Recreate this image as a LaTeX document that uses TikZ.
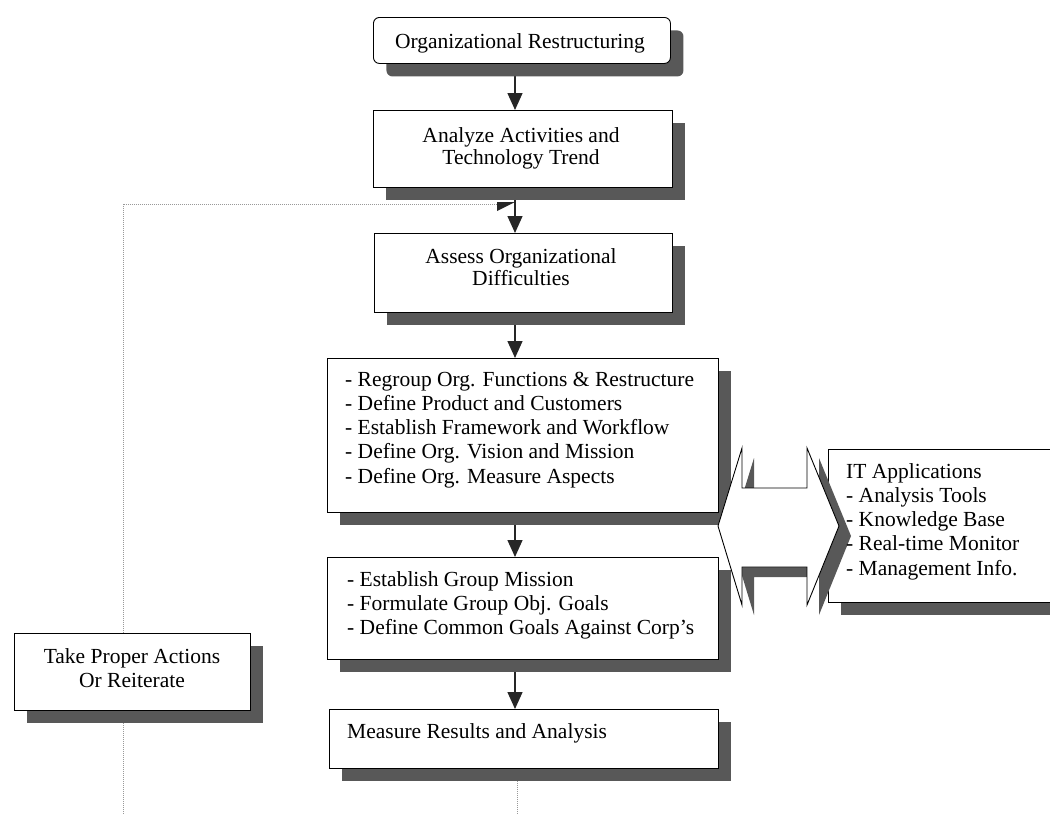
\documentclass[tikz,border=0pt]{standalone}
\usepackage{fontspec}
\setmainfont{Liberation Serif}
\usetikzlibrary{arrows.meta,shadows,backgrounds}
\definecolor{shadowgray}{HTML}{585858}
\tikzset{
  stepbox/.style={draw=black, line width=0.9pt, fill=white, inner sep=0pt,
    anchor=north west,
    drop shadow={shadow xshift=13pt, shadow yshift=-13pt, opacity=1, fill=shadowgray}},
  flow/.style={draw=black!85, line width=1.4pt, -{Triangle[width=15pt,length=17pt]}},
  loopline/.style={draw=gray!80, line width=0.8pt, dash pattern=on 0.8pt off 1.2pt},
  txt/.style={inner sep=0pt, font=\fontsize{21.5}{24.3}\selectfont},
  txttight/.style={inner sep=0pt, font=\fontsize{21.5}{22}\selectfont},
}
\newcommand\linkshape{(718,526) -- (742,448) -- (742,488) -- (807,488) -- (807,448)
  -- (839,526) -- (807,605) -- (807,567) -- (742,567) -- (742,605) -- cycle}
\begin{document}
\begin{tikzpicture}[x=1pt,y=-1pt]
\useasboundingbox (0,0) rectangle (1050,814);
\clip (0,0) rectangle (1050,814);

% process boxes
\node[stepbox, rounded corners=6pt, minimum width=297pt, minimum height=46pt] (b1) at (373,17) {};
\node[stepbox, minimum width=299pt, minimum height=77pt] (b2) at (373,110) {};
\node[stepbox, minimum width=298pt, minimum height=79pt] (b3) at (374,233) {};
\node[stepbox, minimum width=391pt, minimum height=154pt] (b4) at (327,358) {};
\node[stepbox, minimum width=391pt, minimum height=102pt] (b5) at (327,557) {};
\node[stepbox, minimum width=389pt, minimum height=59pt] (b6) at (329,709) {};
\node[stepbox, minimum width=236pt, minimum height=77pt] (bl) at (14,633) {};
\node[stepbox, drop shadow={shadow xshift=15pt, shadow yshift=-11pt, opacity=1, fill=shadowgray},
  minimum width=240pt, minimum height=153pt] (bit) at (828,449) {};

% two-way link between the group boxes and the IT applications
\fill[shadowgray, shift={(12,10)}] \linkshape;
\draw[black, line width=0.9pt, fill=white] \linkshape;

% box texts
\node[txt, anchor=base] (t1) at (520,48) {Organizational Restructuring};
\node[txttight, anchor=base] (t2) at (521,142)
  {\begin{tabular}[t]{@{}c@{}}Analyze Activities and\\Technology Trend\end{tabular}};
\node[txttight, anchor=base] (t3) at (521,263)
  {\begin{tabular}[t]{@{}c@{}}Assess Organizational\\Difficulties\end{tabular}};
\node[txt, anchor=base west] (t4) at (345,386)
  {\begin{tabular}[t]{@{}l@{}}- Regroup Org. Functions \& Restructure\\
   - Define Product and Customers\\
   - Establish Framework and Workflow\\
   - Define Org. Vision and Mission\\
   - Define Org. Measure Aspects\end{tabular}};
\node[txt, anchor=base west] (t5) at (347,586)
  {\begin{tabular}[t]{@{}l@{}}- Establish Group Mission\\
   - Formulate Group Obj. Goals\\
   - Define Common Goals Against Corp's\end{tabular}};
\node[txt, anchor=base west] (t6) at (347,738) {Measure Results and Analysis};
\node[txt, anchor=base] (tl) at (132,663)
  {\begin{tabular}[t]{@{}c@{}}Take Proper Actions\\Or Reiterate\end{tabular}};
\node[txt, anchor=base west] (tit) at (846,478)
  {\begin{tabular}[t]{@{}l@{}}IT Applications\\
   - Analysis Tools\\
   - Knowledge Base\\
   - Real-time Monitor\\
   - Management Info.\end{tabular}};

% connectors, kept under the boxes and their shadows
\coordinate (ax) at (515,0);
\coordinate (dx) at (517,0);
\coordinate (lc) at (123,204);
\coordinate (jn) at (497,204);
\coordinate (bottom) at (0,814);
\begin{scope}[on background layer]
  \draw[flow] (b1.south -| ax) -- (b2.north -| ax);
  \draw[flow] (b2.south -| ax) -- (b3.north -| ax);
  \draw[flow] (b3.south -| ax) -- (b4.north -| ax);
  \draw[flow] (b4.south -| ax) -- (b5.north -| ax);
  \draw[flow] (b5.south -| ax) -- (b6.north -| ax);
  \draw[loopline] (bl.north -| lc) -- (lc) -- (jn);
  \draw[loopline] (bl.south -| lc) -- (lc |- bottom);
  \draw[loopline] (b6.south -| dx) -- (dx |- bottom);
\end{scope}
\fill[black!85] (jn) ++(0,-2) -- ++(18,0) -- ++(-18,9) -- cycle;
\end{tikzpicture}
\end{document}
